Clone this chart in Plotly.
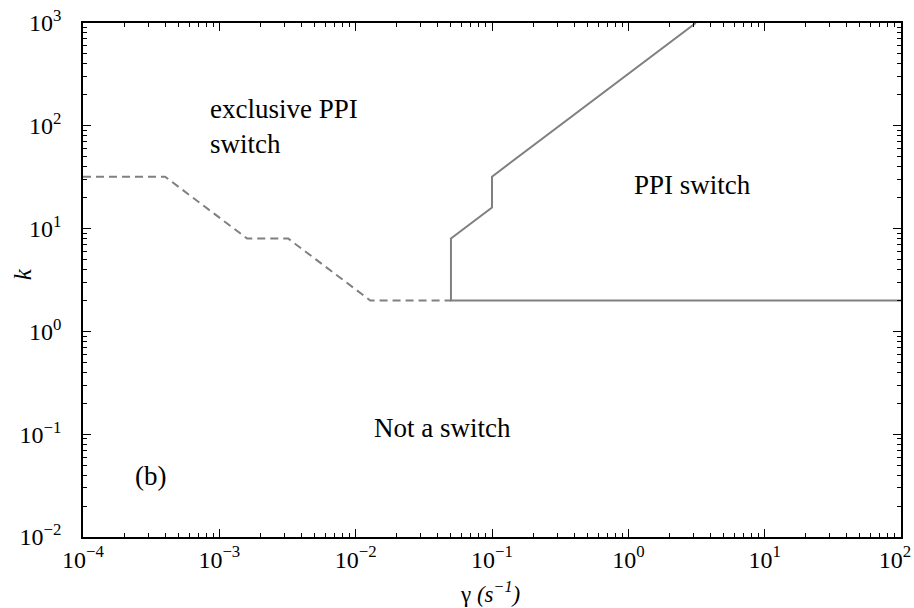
import plotly.graph_objects as go

# dashed boundary (exclusive PPI switch / not a switch)
dashed_gamma = [1e-4, 4e-4, 1.6e-3, 3.2e-3, 1.28e-2, 0.05]
dashed_k = [32, 32, 8, 8, 2, 2]

# solid boundary (PPI switch region)
solid_gamma = [100, 0.05, 0.05, 0.1, 0.1, 3.125]
solid_k = [2, 2, 8, 16, 32, 1000]

x_tickvals = [1e-4, 1e-3, 1e-2, 1e-1, 1, 10, 100]
x_ticktext = ["10<sup>−4</sup>", "10<sup>−3</sup>", "10<sup>−2</sup>", "10<sup>−1</sup>",
              "10<sup>0</sup>", "10<sup>1</sup>", "10<sup>2</sup>\u00a0\u00a0"]
y_tickvals = [1e-2, 1e-1, 1, 10, 100, 1000]
y_ticktext = ["10<sup>−2</sup>", "10<sup>−1</sup>", "10<sup>0</sup>",
              "10<sup>1</sup>", "10<sup>2</sup>", "10<sup>3</sup>"]

x_range_log = [-4, 2]
y_range_log = [-2, 3]

line_color = "#808080"
font_family = "Liberation Serif, Times New Roman, serif"

fig = go.Figure()
fig.add_trace(go.Scatter(x=dashed_gamma, y=dashed_k, mode="lines",
                         line=dict(color=line_color, width=2, dash="8px,5px"),
                         showlegend=False))
fig.add_trace(go.Scatter(x=solid_gamma, y=solid_k, mode="lines",
                         line=dict(color=line_color, width=2),
                         showlegend=False))

axis_common = dict(
    type="log", showgrid=False, zeroline=False, automargin=False,
    showline=True, linecolor="black", linewidth=1.5, mirror="allticks",
    ticks="inside", ticklen=8, tickwidth=1, tickcolor="black",
    tickmode="array", ticklabeloverflow="allow",
    tickfont=dict(family=font_family, size=24, color="black"),
    minor=dict(ticks="inside", ticklen=4, tickwidth=1, tickcolor="black", dtick="D1", showgrid=False),
)

fig.update_xaxes(range=x_range_log, tickvals=x_tickvals, ticktext=x_ticktext, **axis_common)
fig.update_yaxes(range=y_range_log, tickvals=y_tickvals, ticktext=y_ticktext,
                 ticklabelstandoff=15, **axis_common)

title_font = dict(family=font_family, size=23, color="black")
fig.add_annotation(x=0.4976, y=-0.108, xref="paper", yref="paper", xanchor="center", yanchor="middle",
                   text="γ <i>(s<sup>−1</sup>)</i>", showarrow=False, font=title_font)
fig.add_annotation(x=-0.0746, y=0.511, xref="paper", yref="paper", xanchor="center", yanchor="middle",
                   text="<i>k</i>", textangle=-90, showarrow=False,
                   font=dict(family=font_family, size=25, color="black"))

ann_font = dict(family=font_family, size=27, color="black")
fig.add_annotation(x=0.1528, y=0.798, xref="paper", yref="paper", xanchor="left", yanchor="middle",
                   text="exclusive PPI<br>switch", align="left", showarrow=False, font=ann_font)
fig.add_annotation(x=0.7455, y=0.685, xref="paper", yref="paper", xanchor="center", yanchor="middle",
                   text="PPI switch", showarrow=False, font=ann_font)
fig.add_annotation(x=0.44, y=0.2126, xref="paper", yref="paper", xanchor="center", yanchor="middle",
                   text="Not a switch", showarrow=False, font=ann_font)
fig.add_annotation(x=0.083, y=0.119, xref="paper", yref="paper", xanchor="center", yanchor="middle",
                   text="(b)", showarrow=False, font=ann_font)

fig.update_layout(
    width=914, height=608,
    margin=dict(l=83, r=13, t=23, b=71),
    plot_bgcolor="white", paper_bgcolor="white",
    font=dict(family=font_family, color="black"),
)

fig.write_html("out.html", config={"displayModeBar": False},
               post_script="document.body.style.margin='0';document.body.style.overflow='hidden';")
